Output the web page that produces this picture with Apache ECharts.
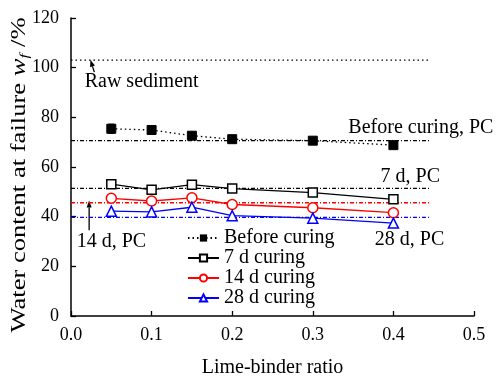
<!DOCTYPE html>
<html>
<head>
<meta charset="utf-8">
<script src="https://cdn.jsdelivr.net/npm/echarts@6/dist/echarts.min.js"></script>
<style>
  html, body { margin: 0; padding: 0; background: #fff; }
  #main { width: 496px; height: 376px; }
</style>
</head>
<body>
<div id="main"></div>
<script>
// lime-binder ratios
const ratios = [0.05, 0.1, 0.15, 0.2, 0.3, 0.4];

// water content at failure (%)
const beforeCuring = [75.4, 74.9, 72.6, 71.2, 70.6, 68.8];
const beforeErr = [1.8, 0, 0, 0, 0, 0];
const curing7d = [53.1, 50.8, 52.9, 51.3, 49.7, 47.0];
const curing14d = [47.4, 46.3, 47.6, 44.9, 43.6, 41.6];
const curing28d = [42.2, 41.9, 43.8, 40.4, 39.4, 37.4];

// reference levels (PC / raw)
const rawSediment = 103.0;
const pcBefore = 70.6;
const pc7d = 51.4;
const pc14d = 45.6;
const pc28d = 39.7;
const refSpan = [0, 0.445];

const FONT = '"Liberation Serif", "Times New Roman", serif';

const chart = echarts.init(document.getElementById('main'));

function pairs(ys) {
  return ratios.map((x, i) => [x, ys[i]]);
}
function refLine(name, v, color, dash) {
  return {
    name: name,
    type: 'line',
    data: refSpan.map((x) => [x, v]),
    symbol: 'none',
    silent: true,
    lineStyle: { color: color, width: 1.3, type: dash },
    z: 1,
  };
}

const dashDot = [4, 2, 1, 2];

chart.setOption({
  animation: false,
  textStyle: { fontFamily: FONT },
  grid: { left: 71, right: 22, top: 18, bottom: 60, outerBoundsMode: 'none' },
  legend: {
    orient: 'vertical',
    left: 182,
    top: 223,
    itemWidth: 31,
    itemHeight: 9,
    itemGap: 0,
    data: ['Before curing', '7 d curing', '14 d curing', '28 d curing'],
    textStyle: { fontFamily: FONT, fontSize: 20, color: '#000' },
  },
  xAxis: {
    type: 'value',
    min: 0,
    max: 0.5,
    interval: 0.1,
    name: 'Lime-binder ratio',
    nameLocation: 'middle',
    nameGap: 42,
    nameTextStyle: { fontFamily: FONT, fontSize: 20, color: '#000' },
    axisLine: { lineStyle: { color: '#000', width: 1.5 } },
    axisTick: { inside: true, length: 5, lineStyle: { color: '#000', width: 1.3 } },
    axisLabel: {
      fontFamily: FONT, fontSize: 18, color: '#000', margin: 10,
      formatter: (v) => v.toFixed(1),
    },
    splitLine: { show: false },
  },
  yAxis: {
    type: 'value',
    min: 0,
    max: 120,
    interval: 20,
    axisLine: { show: true, lineStyle: { color: '#000', width: 1.5 } },
    axisTick: { show: true, inside: true, length: 5, lineStyle: { color: '#000', width: 1.3 } },
    axisLabel: { fontFamily: FONT, fontSize: 18, color: '#000', margin: 12 },
    splitLine: { show: false },
  },
  series: [
    refLine('Raw sediment', rawSediment, '#000', [1.5, 3]),
    refLine('Before curing, PC', pcBefore, '#000', dashDot),
    refLine('7 d, PC', pc7d, '#000', dashDot),
    refLine('14 d, PC', pc14d, '#ff0000', dashDot),
    refLine('28 d, PC', pc28d, '#0000ff', dashDot),
    {
      name: 'Before curing',
      type: 'line',
      data: pairs(beforeCuring),
      symbol: 'rect',
      symbolSize: 9,
      itemStyle: { color: '#000', borderColor: '#000' },
      lineStyle: { color: '#000', width: 1.3, type: [1.5, 3] },
      z: 3,
    },
    {
      name: 'before-err',
      type: 'custom',
      silent: true,
      data: ratios.map((x, i) => [x, beforeCuring[i] - beforeErr[i], beforeCuring[i] + beforeErr[i]]),
      renderItem: (params, api) => {
        const lo = api.coord([api.value(0), api.value(1)]);
        const hi = api.coord([api.value(0), api.value(2)]);
        if (hi[1] === lo[1]) return null;
        return {
          type: 'group',
          children: [
            { type: 'line', shape: { x1: lo[0], y1: lo[1], x2: hi[0], y2: hi[1] }, style: { stroke: '#000', lineWidth: 1.3 } },
            { type: 'line', shape: { x1: lo[0] - 3, y1: lo[1], x2: lo[0] + 3, y2: lo[1] }, style: { stroke: '#000', lineWidth: 1.3 } },
            { type: 'line', shape: { x1: hi[0] - 3, y1: hi[1], x2: hi[0] + 3, y2: hi[1] }, style: { stroke: '#000', lineWidth: 1.3 } },
          ],
        };
      },
      z: 2,
    },
    {
      name: '7 d curing',
      type: 'line',
      data: pairs(curing7d),
      symbol: 'rect',
      symbolSize: 9,
      itemStyle: { color: '#fff', borderColor: '#000', borderWidth: 1.5 },
      lineStyle: { color: '#000', width: 1.3 },
      z: 3,
    },
    {
      name: '14 d curing',
      type: 'line',
      data: pairs(curing14d),
      symbol: 'circle',
      symbolSize: 10,
      itemStyle: { color: '#fff', borderColor: '#ff0000', borderWidth: 1.5 },
      lineStyle: { color: '#ff0000', width: 1.3 },
      z: 3,
    },
    {
      name: '28 d curing',
      type: 'line',
      data: pairs(curing28d),
      symbol: 'triangle',
      symbolSize: 10,
      itemStyle: { color: '#fff', borderColor: '#0000ff', borderWidth: 1.5 },
      lineStyle: { color: '#0000ff', width: 1.3 },
      z: 3,
    },
  ],
});

// annotation texts and arrows, anchored in data space
const toPx = (x, y) => chart.convertToPixel({ gridIndex: 0 }, [x, y]);
function label(text, x, y, align) {
  const p = toPx(x, y);
  return {
    type: 'text',
    x: p[0],
    y: p[1],
    style: { text: text, fontFamily: FONT, fontSize: 20, fill: '#000', align: align || 'left', verticalAlign: 'middle' },
  };
}
function arrow(x1, y1, x2, y2) {
  const a = toPx(x1, y1);
  const b = toPx(x2, y2);
  const ang = Math.atan2(b[1] - a[1], b[0] - a[0]);
  const hl = 7, hw = 2.5;
  const bx = b[0] - hl * Math.cos(ang), by = b[1] - hl * Math.sin(ang);
  const nx = -Math.sin(ang) * hw, ny = Math.cos(ang) * hw;
  return [
    { type: 'line', shape: { x1: a[0], y1: a[1], x2: bx, y2: by }, style: { stroke: '#000', lineWidth: 1.3 } },
    { type: 'polygon', shape: { points: [[b[0], b[1]], [bx + nx, by + ny], [bx - nx, by - ny]] }, style: { fill: '#000' } },
  ];
}

// y-axis title, stretched along its length like the original
const yMid = toPx(0, 60);
chart.setOption({
  graphic: [
    {
      type: 'text',
      x: 20,
      y: yMid[1] + 8,
      rotation: Math.PI / 2,
      scaleX: 1.33,
      style: {
        text: '{a|Water content at failure }{w|w}{f|f}{a| /%}',
        align: 'center',
        verticalAlign: 'middle',
        fill: '#000',
        rich: {
          a: { fontFamily: FONT, fontSize: 20, fill: '#000', lineHeight: 22 },
          w: { fontFamily: FONT, fontSize: 20, fontStyle: 'italic', fill: '#000', lineHeight: 22 },
          f: { fontFamily: FONT, fontSize: 13, fontStyle: 'italic', fill: '#000', verticalAlign: 'bottom', lineHeight: 22, padding: [8, 0, 0, 0] },
        },
      },
    },
    label('Raw sediment', 0.017, 94.2),
    ...arrow(0.029, 98.2, 0.024, 103.2),
    label('Before curing, PC', 0.524, 76, 'right'),
    label('7 d, PC', 0.384, 56),
    label('14 d, PC', 0.007, 29.8),
    ...arrow(0.0225, 34.5, 0.0225, 46.5),
    label('28 d, PC', 0.377, 30.6),
  ],
});
</script>
</body>
</html>
